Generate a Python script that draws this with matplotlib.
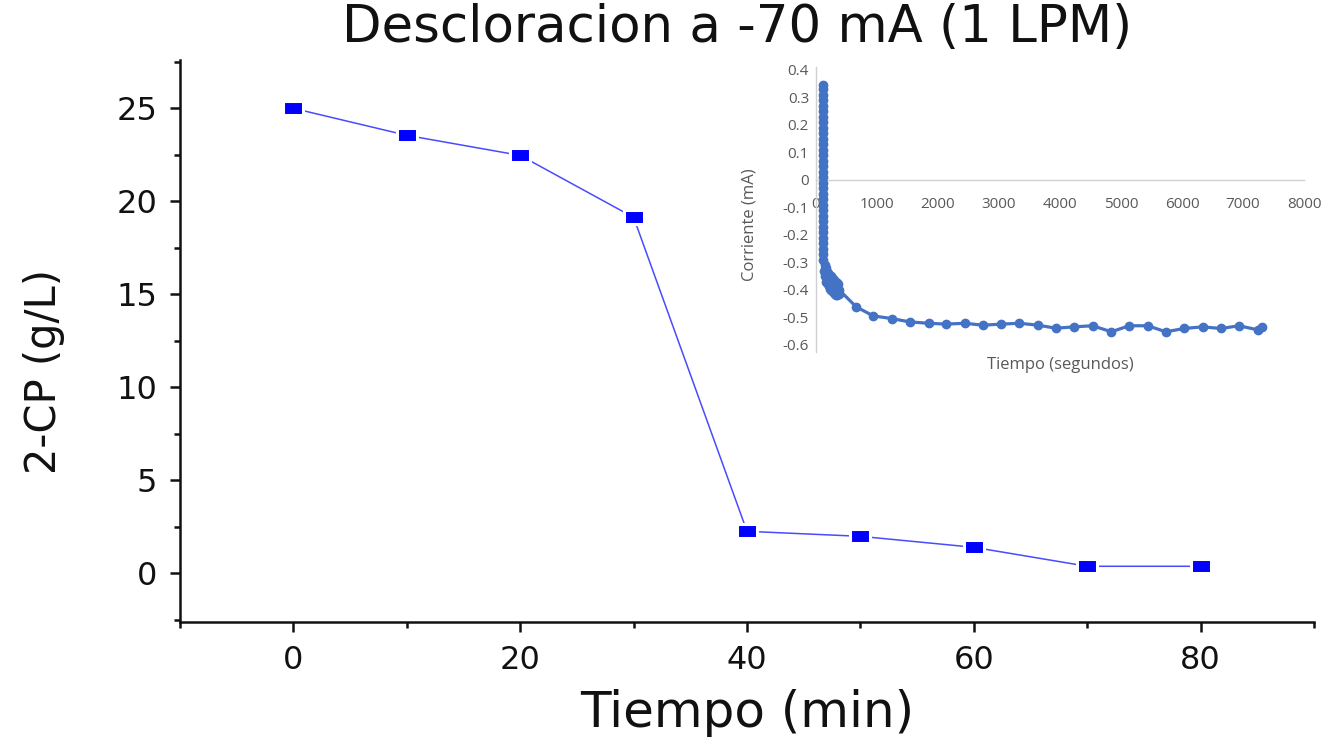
import matplotlib
matplotlib.use("Agg")
import matplotlib.pyplot as plt
from matplotlib.ticker import MultipleLocator, FuncFormatter

# 2-CP concentration during dechlorination
tiempo_min = [0, 10, 20, 30, 40, 50, 60, 70, 80]
cp_gL = [25.0, 23.55, 22.47, 19.14, 2.26, 1.99, 1.40, 0.38, 0.38]

# current recorded during the run (inset)
tiempo_s = [110, 110, 110, 110, 111, 111, 111, 111, 111, 112, 112, 112, 112,
            112, 113, 113, 113, 113, 113, 114, 114, 114, 114, 115, 115, 115,
            116, 116, 117, 117, 118, 119,
            120, 130, 140, 150, 160, 170, 180, 190, 200, 210, 220, 230, 240,
            250, 260, 270, 280, 290, 300, 310, 320, 330, 340, 350, 360, 370,
            380,
            658, 935, 1243, 1538, 1846, 2135, 2443, 2738, 3040, 3335, 3643,
            3932, 4228, 4535, 4843, 5132, 5440, 5735, 6031, 6338, 6640, 6935,
            7243, 7305]
corriente_mA = [0.345, 0.33, 0.31, 0.29, 0.27, 0.25, 0.23, 0.21, 0.19, 0.17,
                0.15, 0.13, 0.11, 0.09, 0.07, 0.05, 0.03, 0.01, -0.01, -0.03,
                -0.05, -0.07, -0.09, -0.11, -0.13, -0.15, -0.17, -0.19,
                -0.21, -0.23, -0.25, -0.27,
                -0.29, -0.33, -0.31, -0.35, -0.32, -0.37, -0.335, -0.38,
                -0.34, -0.385, -0.345, -0.395, -0.35, -0.40, -0.355, -0.405,
                -0.36, -0.41, -0.365, -0.415, -0.37, -0.42, -0.375, -0.42,
                -0.38, -0.415, -0.40,
                -0.461, -0.494, -0.504, -0.516, -0.521, -0.524, -0.521,
                -0.528, -0.524, -0.521, -0.528, -0.539, -0.534, -0.530,
                -0.552, -0.530, -0.530, -0.552, -0.540, -0.534, -0.540,
                -0.530, -0.545, -0.533]

W, H = 1338, 744
fig = plt.figure(figsize=(W / 100, H / 100), dpi=100)

main_font = "DejaVu Sans"
ink = "#111111"
ax = fig.add_axes([180 / W, 1 - 621.7 / H, (1314 - 180) / W, (621.7 - 60) / H])

# wide rectangular marker
rect = [(-1.5, -1), (1.5, -1), (1.5, 1), (-1.5, 1), (-1.5, -1)]
ax.plot(tiempo_min, cp_gL, color="#4a4aff", lw=1.1, zorder=2)
ax.plot(tiempo_min, cp_gL, ls="none", marker=rect, markersize=15,
        markerfacecolor="#0000ff", markeredgecolor="white",
        markeredgewidth=2.2, zorder=3)

ax.set_xlim(-10, 90)
ax.set_ylim(-2.6, 27.6)
ax.xaxis.set_major_locator(MultipleLocator(20))
ax.xaxis.set_minor_locator(MultipleLocator(10))
ax.yaxis.set_major_locator(MultipleLocator(5))
ax.yaxis.set_minor_locator(MultipleLocator(2.5))
for s in ("top", "right"):
    ax.spines[s].set_visible(False)
for s in ("left", "bottom"):
    ax.spines[s].set_linewidth(1.8)
    ax.spines[s].set_color(ink)
ax.tick_params(which="major", direction="out", length=7.5, width=1.8,
               labelsize=23, pad=9, color=ink)
ax.tick_params(which="minor", direction="out", length=4, width=1.8, color=ink)
for lab in ax.get_xticklabels() + ax.get_yticklabels():
    lab.set_fontfamily(main_font)
    lab.set_color(ink)

fig.text(737 / W, 1 - 28 / H, "Descloracion a -70 mA (1 LPM)", ha="center",
         va="center", fontsize=37, family=main_font, color=ink)
fig.text(747 / W, 1 - 713 / H, "Tiempo (min)", ha="center", va="center",
         fontsize=36, family=main_font, color=ink)
fig.text(44 / W, 1 - 372 / H, "2-CP (g/L)", ha="center", va="center",
         rotation=90, fontsize=30, family=main_font, color=ink)

# inset: current vs time
gray = "#595959"
inset_font = "Open Sans"
x0, x1 = 816, 1304
y_top, y_bot = 70, 345
ax2 = fig.add_axes([x0 / W, 1 - y_bot / H, (x1 - x0) / W, (y_bot - y_top) / H])
ax2.set_facecolor("none")
ax2.plot(tiempo_s, corriente_mA, color="#4472c4", lw=2.3, marker="o",
         markersize=6, markerfacecolor="#4472c4", markeredgecolor="#4472c4",
         zorder=3, clip_on=False)
ax2.set_xlim(0, 8000)
ax2.set_ylim(-0.6, 0.4)
ax2.xaxis.set_major_locator(MultipleLocator(1000))
ax2.yaxis.set_major_locator(MultipleLocator(0.1))
ax2.spines["top"].set_visible(False)
ax2.spines["right"].set_visible(False)
ax2.spines["bottom"].set_position(("data", 0))
ax2.spines["bottom"].set_color("#d0d0d0")
ax2.spines["left"].set_color("#d0d0d0")
ax2.spines["bottom"].set_linewidth(1.0)
ax2.spines["left"].set_linewidth(1.0)
ax2.spines["left"].set_bounds(-0.625, 0.41)
ax2.tick_params(axis="y", length=0, labelsize=11, labelcolor=gray, pad=5)
ax2.tick_params(axis="x", length=0, labelsize=11, labelcolor=gray, pad=12)
ax2.yaxis.set_major_formatter(FuncFormatter(
    lambda v, p: "0" if abs(v) < 1e-9 else f"{v:.1f}"))
ax2.xaxis.set_major_formatter(FuncFormatter(lambda v, p: f"{v:.0f}"))
for lab in ax2.get_xticklabels() + ax2.get_yticklabels():
    lab.set_fontfamily(inset_font)
ax2.set_xlabel("Tiempo (segundos)", fontsize=12, color=gray,
               family=inset_font, labelpad=0)
ax2.xaxis.set_label_coords(0.5, -0.045)
ax2.set_ylabel("Corriente (mA)", fontsize=12, color=gray,
               family=inset_font)
ax2.yaxis.set_label_coords(-0.12, 0.436)

fig.savefig("out.png", dpi=100)
